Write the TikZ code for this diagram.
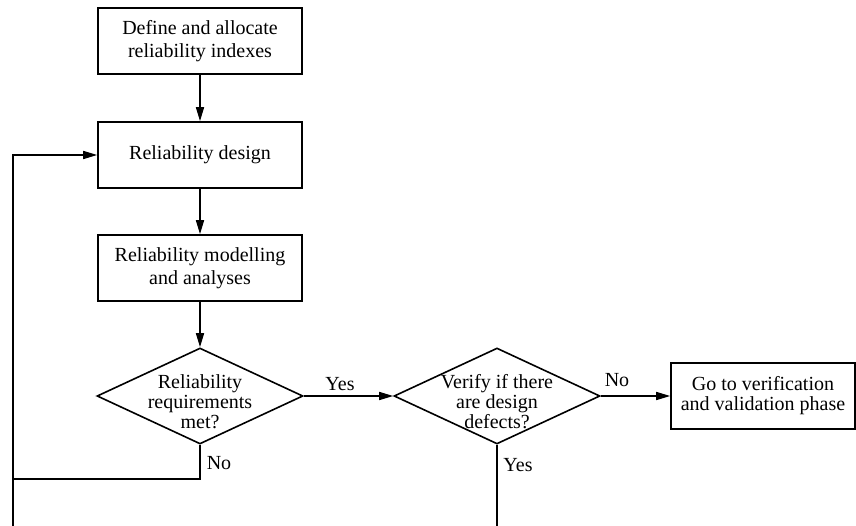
\documentclass[tikz,border=0pt]{standalone}
\usepackage{fontspec}
\setmainfont{Liberation Serif}
\usetikzlibrary{arrows.meta,positioning,shapes.geometric,calc}

\begin{document}
\begin{tikzpicture}[x=1pt, y=1pt,
    box/.style={rectangle, draw, line width=1.6pt, minimum width=204pt, minimum height=66pt, align=center, font=\fontsize{20}{23}\selectfont},
    endbox/.style={rectangle, draw, line width=1.6pt, minimum width=184pt, minimum height=66pt, align=center, font=\fontsize{20}{20}\selectfont},
    decision/.style={diamond, draw, line width=1.6pt, minimum width=206pt, minimum height=96pt, inner sep=0pt},
    dtext/.style={align=center, font=\fontsize{20}{20}\selectfont},
    lbl/.style={font=\fontsize{20}{20}\selectfont},
    edge/.style={-{Triangle[length=14pt,width=8pt]}, line width=1.6pt},
    line/.style={line width=1.6pt}
]
\useasboundingbox (0,0) rectangle (856,-526);

\node[box] (define) at (200,-41) {Define and allocate\\reliability indexes};
\node[box] (design) at (200,-155) {Reliability design};
\node[box] (model) at (200,-268) {Reliability modelling\\and analyses};

\node[decision] (req) at (200,-396) {};
\node[dtext] (reqtext) at (200,-402) {Reliability\\requirements\\met?};
\node[decision] (defect) at (497,-396) {};
\node[dtext] (defecttext) at (497,-402) {Verify if there\\are design\\defects?};

\node[endbox] (vv) at (763,-396) {Go to verification\\and validation phase};

\coordinate (nojoin) at (13,-479);
\coordinate (loopbot) at (13,-526);
\coordinate (yesbot) at (497,-526);

\draw[edge] (define) -- (design);
\draw[edge] (design) -- (model);
\draw[edge] (model) -- (req);
\draw[edge] (req.east) -- (defect.west);
\draw[edge] (defect.east) -- (vv);
\draw[line] (req.south) |- (nojoin);
\draw[edge] (loopbot) |- (design.west);
\draw[line] (defect.south) -- (yesbot);

\node[lbl] at (340,-384) {Yes};
\node[lbl] at (617,-380) {No};
\node[lbl] at (219,-463) {No};
\node[lbl] at (518,-465) {Yes};
\end{tikzpicture}
\end{document}
